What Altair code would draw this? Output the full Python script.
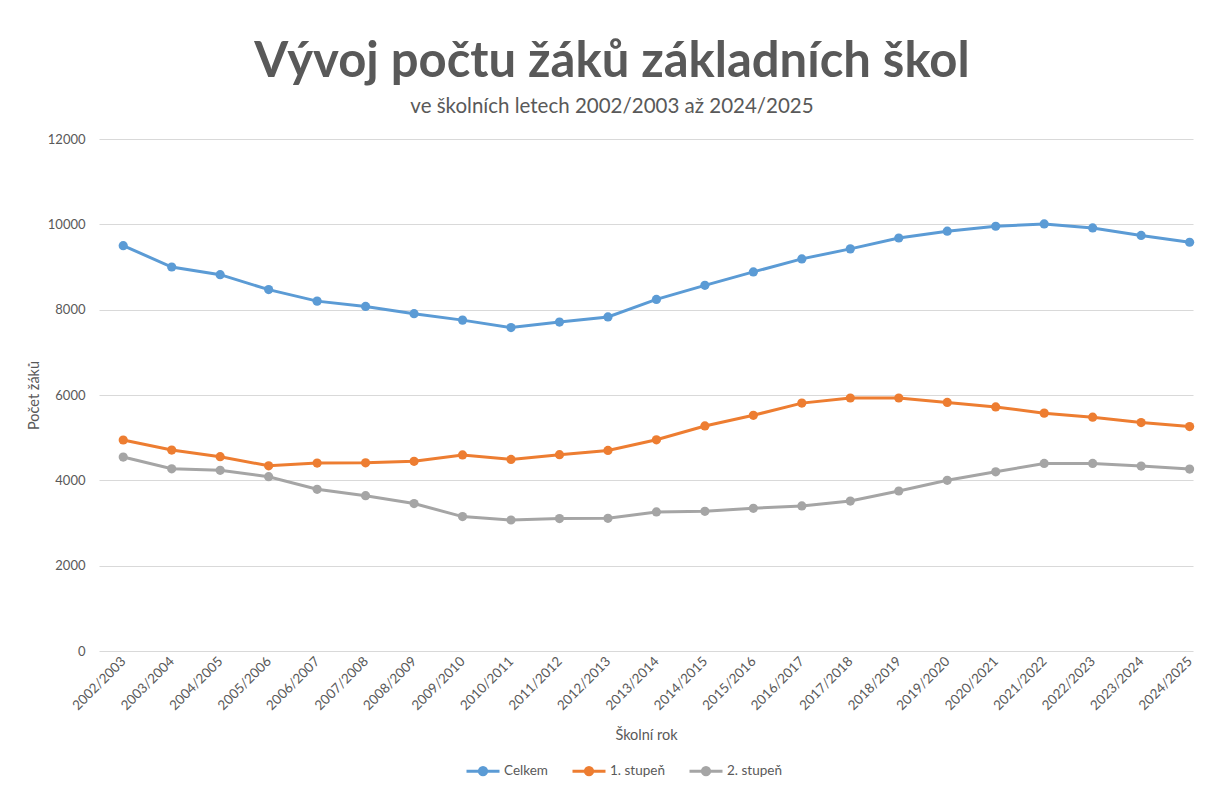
import altair as alt
import pandas as pd

years = ["2002/2003", "2003/2004", "2004/2005", "2005/2006", "2006/2007", "2007/2008",
         "2008/2009", "2009/2010", "2010/2011", "2011/2012", "2012/2013", "2013/2014",
         "2014/2015", "2015/2016", "2016/2017", "2017/2018", "2018/2019", "2019/2020",
         "2020/2021", "2021/2022", "2022/2023", "2023/2024", "2024/2025"]
celkem = [9500, 9000, 8820, 8470, 8200, 8075, 7905, 7755, 7580, 7710, 7830, 8240,
          8570, 8885, 9190, 9425, 9680, 9840, 9955, 10010, 9915, 9740, 9580]
stupen1 = [4945, 4710, 4555, 4340, 4405, 4410, 4445, 4595, 4490, 4600, 4700, 4950,
           5275, 5525, 5810, 5930, 5930, 5825, 5720, 5575, 5480, 5355, 5260]
stupen2 = [4545, 4270, 4235, 4085, 3790, 3640, 3455, 3150, 3070, 3105, 3110, 3260,
           3275, 3345, 3400, 3515, 3750, 4000, 4200, 4395, 4395, 4335, 4265]
series = ["Celkem", "1. stupeň", "2. stupeň"]
colors = ["#5B9BD5", "#ED7D31", "#A5A5A5"]

rows = []
for name, vals in zip(series, [celkem, stupen1, stupen2]):
    for i, (y, v) in enumerate(zip(years, vals)):
        rows.append({"idx": i, "rok": y, "serie": name, "pocet": v})
df = pd.DataFrame(rows)

label_expr = "[" + ",".join("'" + y + "'" for y in years) + "][datum.value]"

TXT = "#595959"
FONT = "Lato"

x = alt.X("idx:Q",
          scale=alt.Scale(domain=[-0.5, 22.07], nice=False, zero=False),
          axis=alt.Axis(values=list(range(len(years))), labelExpr=label_expr,
                        labelAngle=-45, labelAlign="right", labelBaseline="middle",
                        labelOverlap=False, labelBound=False, labelFlush=False,
                        grid=False, domain=False, ticks=False, labelPadding=8,
                        labelFontSize=13.5, labelColor=TXT, labelFont=FONT,
                        title="Školní rok", titleFontSize=14.5, titleColor=TXT,
                        titleFont=FONT, titleFontWeight="normal", titlePadding=16))
y = alt.Y("pocet:Q",
          scale=alt.Scale(domain=[0, 12000], nice=False),
          axis=alt.Axis(values=[0, 2000, 4000, 6000, 8000, 10000, 12000],
                        format="d", grid=True, gridColor="#D9D9D9", gridWidth=1,
                        domain=False, ticks=False, labelPadding=14,
                        labelFontSize=13, labelColor=TXT, labelFont=FONT,
                        title="Počet žáků", titleFontSize=14.5, titleColor=TXT,
                        titleFont=FONT, titleFontWeight="normal", titlePadding=6))
color = alt.Color("serie:N",
                  scale=alt.Scale(domain=series, range=colors),
                  legend=alt.Legend(title=None, orient="none", direction="horizontal",
                                    legendX=366, legendY=614,
                                    symbolType=("M-1,0L1,0"
                                                "M-0.22,0a0.22,0.22 0 1,0 0.44,0a0.22,0.22 0 1,0 -0.44,0"
                                                "M-0.08,0a0.08,0.08 0 1,0 0.16,0a0.08,0.08 0 1,0 -0.16,0"),
                                    symbolSize=1089, symbolStrokeWidth=3,
                                    labelFontSize=13.5, labelColor=TXT, labelFont=FONT,
                                    labelOffset=3, columnPadding=18))
fill = alt.Fill("serie:N", scale=alt.Scale(domain=series, range=colors), legend=None)

base = alt.Chart(df).encode(x=x, y=y, order=alt.Order("idx:Q"))
lines = base.mark_line(strokeWidth=3).encode(color=color)
points = base.mark_point(filled=True, size=85, opacity=1).encode(fill=fill)

chart = (lines + points).properties(
    width=1094, height=512,
    background="white",
    autosize=alt.AutoSizeParams(type="none"),
    padding={"left": 91, "top": 131, "right": 4, "bottom": 126},
    title=alt.TitleParams(
        text="Vývoj počtu žáků základních škol",
        subtitle="ve školních letech 2002/2003 až 2024/2025",
        anchor="middle", dx=-34, offset=16,
        font=FONT, fontSize=49, fontWeight="bold", color=TXT,
        subtitleFont=FONT, subtitleFontSize=20.5, subtitleColor=TXT,
        subtitlePadding=10),
).resolve_scale(color="independent").configure_view(stroke=None)

chart.save("out.html", embed_options={"renderer": "svg", "actions": False})
